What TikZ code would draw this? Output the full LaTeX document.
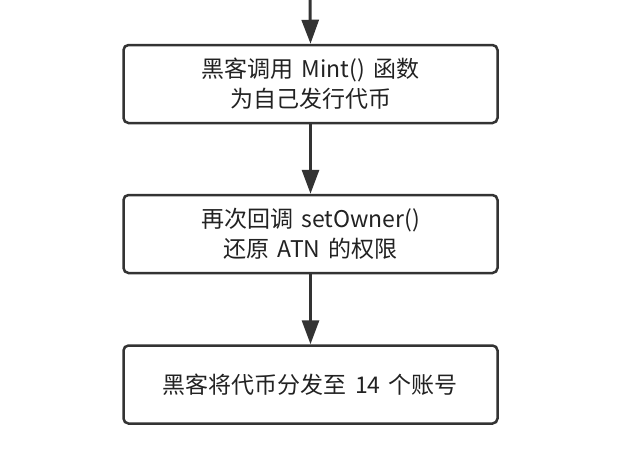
\documentclass[tikz,border=0pt]{standalone}
\usepackage{fontspec}
\setmainfont{Noto Sans CJK SC}[WordSpace=1.6]
\usetikzlibrary{arrows.meta}
\usetikzlibrary{calc}
\definecolor{linegray}{HTML}{333333}
\definecolor{textgray}{HTML}{222222}
\tikzset{
	stepbox/.style={draw=linegray, line width=2.5pt, rounded corners=5pt,
		minimum width=374pt, minimum height=78pt, align=center,
		text=textgray, font=\fontsize{23pt}{30pt}\selectfont},
	flow/.style={draw=linegray, line width=3pt,
		-{Triangle[length=24pt,width=17pt]}},
}

\begin{document}
\begin{tikzpicture}[x=1pt,y=-1pt]
	\useasboundingbox (0,0) rectangle (618,472);
	\coordinate (top) at (310,0);
	\node[stepbox] at (310.5,84) (mint) {黑客调用 Mint() 函数\\为自己发行代币};
	\node[stepbox] at (310.5,234) (owner) {再次回调 setOwner()\\还原 ATN 的权限};
	\node[stepbox] at (310.5,384.5) (spread) {黑客将代币分发至 14 个账号};
	\draw[flow] (top) -- (mint.north);
	\draw[flow] (mint.south) -- (owner.north);
	\draw[flow] (owner.south) -- (spread.north);
\end{tikzpicture}
\end{document}
